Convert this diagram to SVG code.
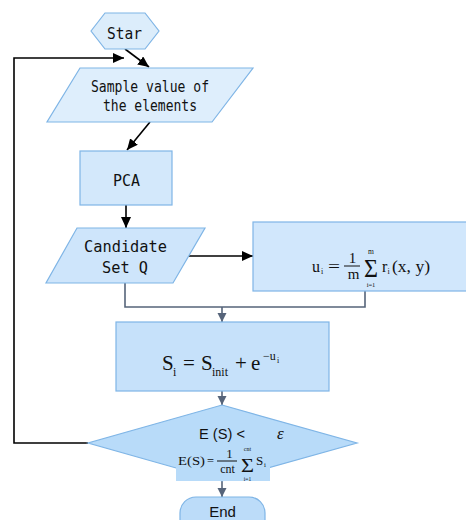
<svg xmlns="http://www.w3.org/2000/svg" width="466" height="520" viewBox="0 0 466 520">
<style>
.shape{stroke:#7fb5e6;stroke-width:1.2}
.mono{font-family:"DejaVu Sans Mono","Liberation Mono",monospace;font-size:16px;fill:#111}
.sans{font-family:"Liberation Sans","Noto Sans",sans-serif;fill:#111}
.serif{font-family:"Liberation Serif","DejaVu Serif",serif;fill:#111}
.blk{stroke:#000;stroke-width:1.6;fill:none}
.gry{stroke:#56647a;stroke-width:1.6;fill:none}
</style>
<defs>
<marker id="ab" markerUnits="userSpaceOnUse" markerWidth="12" markerHeight="10" refX="11" refY="5" orient="auto"><path d="M0,0 L11,5 L0,10 Z" fill="#000"/></marker>
<marker id="ag" markerUnits="userSpaceOnUse" markerWidth="10" markerHeight="10" refX="9" refY="4.5" orient="auto"><path d="M0,0 L9,4.5 L0,9 Z" fill="#56647a"/></marker>
</defs>
<g id="connectors">
<polyline class="blk" points="88,443 14,443 14,58 124,58" marker-end="url(#ab)"/>
<line class="blk" x1="125" y1="49" x2="149" y2="67" marker-end="url(#ab)"/>
<line class="blk" x1="150" y1="122" x2="127" y2="150" marker-end="url(#ab)"/>
<line class="blk" x1="126" y1="205" x2="126" y2="228" marker-end="url(#ab)"/>
<line class="blk" x1="189" y1="256" x2="253" y2="256" marker-end="url(#ab)"/>
<polyline class="gry" points="125,283 125,307 365,307 365,291"/>
<line class="gry" x1="222" y1="307" x2="222" y2="322" marker-end="url(#ag)"/>
<line class="gry" x1="222" y1="391" x2="222" y2="405" marker-end="url(#ag)"/>
<line class="gry" x1="222" y1="481" x2="222" y2="497" marker-end="url(#ag)"/>
</g>
<g id="star">
<polygon class="shape" fill="#dcedfb" points="91,31 105,13 145,13 159,31 145,49 105,49"/>
<text class="mono" x="124.5" y="39" text-anchor="middle" textLength="35" lengthAdjust="spacingAndGlyphs">Star</text>
</g>
<g id="sample">
<polygon class="shape" fill="#deeefc" points="80,68 253,68 212,122 47,122"/>
<text class="mono" x="91" y="92" textLength="118" lengthAdjust="spacingAndGlyphs">Sample value of</text>
<text class="mono" x="103" y="111" textLength="94" lengthAdjust="spacingAndGlyphs">the elements</text>
</g>
<g id="pca">
<rect class="shape" fill="#d3e8fb" x="80" y="151" width="92" height="54"/>
<text class="mono" x="113" y="185.5" textLength="27" lengthAdjust="spacingAndGlyphs">PCA</text>
</g>
<g id="candidate">
<polygon class="shape" fill="#cee5fb" points="77,228 205,228 173,283 46,283"/>
<text class="mono" x="84" y="251.5" textLength="83" lengthAdjust="spacingAndGlyphs">Candidate</text>
<text class="mono" x="102" y="272.5" textLength="46" lengthAdjust="spacingAndGlyphs">Set Q</text>
</g>
<g id="urect">
<rect class="shape" fill="#d1e7fc" x="253" y="222" width="220" height="69"/>
<g class="serif">
<text x="312" y="272" font-size="16">u</text>
<text x="321" y="274" font-size="8">i</text>
<text x="328" y="272" font-size="16" textLength="12" lengthAdjust="spacingAndGlyphs">=</text>
<text x="352.5" y="263" font-size="15" text-anchor="middle">1</text>
<line x1="344" y1="266" x2="360" y2="266" stroke="#111" stroke-width="1"/>
<text x="353.5" y="279" font-size="15" text-anchor="middle">m</text>
<text x="364" y="277" font-size="25" textLength="14" lengthAdjust="spacingAndGlyphs">Σ</text>
<text x="371" y="254" font-size="7.5" text-anchor="middle">m</text>
<text x="371" y="287" font-size="6.5" text-anchor="middle">i=1</text>
<text x="382" y="272" font-size="16">r</text>
<text x="387.5" y="274" font-size="8">i</text>
<text x="392" y="272" font-size="16" textLength="38" lengthAdjust="spacingAndGlyphs">(x, y)</text>
</g>
</g>
<g id="srect">
<rect class="shape" fill="#c6e1fa" x="116" y="322" width="213" height="69"/>
<g class="serif">
<text x="162" y="370" font-size="21">S</text>
<text x="173" y="376" font-size="12">i</text>
<text x="183" y="370" font-size="21">=</text>
<text x="201" y="370" font-size="21">S</text>
<text x="212" y="376" font-size="12">init</text>
<text x="235" y="370" font-size="21">+</text>
<text x="251" y="370" font-size="21">e</text>
<text x="263" y="360" font-size="12">−u</text>
<text x="277" y="363" font-size="8">i</text>
</g>
</g>
<g id="decision">
<polygon class="shape" fill="#b8dbf9" points="222,405 357,443 222,481 88,443"/>
<rect x="176" y="455" width="94" height="26" fill="#b8dbf9"/>
<text class="sans" x="199" y="439" font-size="14" textLength="46" lengthAdjust="spacingAndGlyphs">E (S) &lt;</text>
<text class="serif" x="277" y="439" font-size="17" font-style="italic">ε</text>
<g class="serif">
<text x="178" y="465" font-size="13" textLength="27" lengthAdjust="spacingAndGlyphs">E(S)</text>
<text x="207" y="465" font-size="12" textLength="7" lengthAdjust="spacingAndGlyphs">=</text>
<text x="229.5" y="458" font-size="13" text-anchor="middle">1</text>
<line x1="217" y1="461" x2="237" y2="461" stroke="#111" stroke-width="1"/>
<text x="227.5" y="473" font-size="12" text-anchor="middle">cnt</text>
<text x="241" y="471.5" font-size="19" textLength="13" lengthAdjust="spacingAndGlyphs">Σ</text>
<text x="247.5" y="451" font-size="6" text-anchor="middle">cnt</text>
<text x="247.5" y="481" font-size="5.5" text-anchor="middle">i=1</text>
<text x="256" y="465" font-size="13">S</text>
<text x="264" y="467" font-size="7">i</text>
</g>
</g>
<g id="end">
<rect class="shape" fill="#bcdcf9" x="180" y="497" width="85" height="40" rx="16"/>
<text class="sans" x="222.5" y="517" font-size="15" text-anchor="middle">End</text>
</g>
</svg>
